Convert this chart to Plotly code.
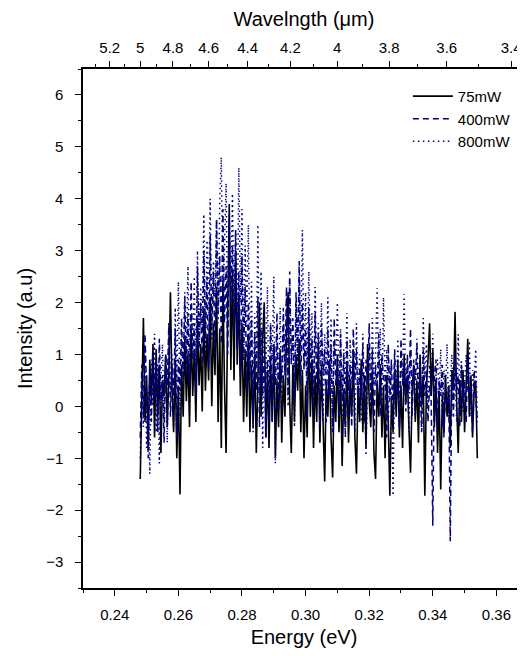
import numpy as np
import plotly.graph_objects as go

# intensity samples, 0.0005 eV apart starting at 0.248 eV
e_start = 0.248
e_step = 0.0005

p75 = [
    -1.4, 0.2, 1.7, -0.3, 0.6, -0.8, 0.9, 0.1, 1.2, -0.6,
    1.1, -0.2, 0.8, -0.9, 0.5, 0.2, 1.0, -0.4, 0.6, 2.2,
    0.3, -0.5, 0.9, -1.0, 0.4, -1.7, 0.8, -0.2, 1.3, 0.1,
    1.0, -0.4, 1.5, 0.2, 1.1, -0.3, 1.7, 0.4, 1.2, -0.1,
    1.9, 0.3, 1.4, 0.5, 2.1, 0.0, 1.6, 0.6, 2.3, -0.3,
    1.5, -0.8, 2.4, 0.4, -0.9, 1.8, 3.9, 0.7, 2.6, 0.5,
    3.0, 0.8, 2.2, 0.2, 1.6, -0.3, 1.1, -0.2, 1.4, -0.5,
    0.8, -0.4, 1.0, -0.9, 0.6, 2.0, -0.2, 1.3, 2.0, -0.6,
    0.7, -0.8, 0.9, -0.3, 1.2, -1.0, 0.5, -0.4, 1.1, -0.7,
    0.6, -0.2, 1.4, 2.2, 0.1, -0.9, 0.8, -0.3, 1.0, 0.3,
    1.3, -0.5, 0.7, -1.0, 0.4, -0.6, 1.5, -0.2, 0.9, -0.8,
    0.6, -0.3, 1.2, -0.7, 0.8, -0.4, -1.45, 0.5, -0.2, 0.9,
    -0.6, -1.37, 0.4, -0.3, 1.0, -0.5, 0.6, -1.15, 0.3, -0.4,
    0.8, -0.7, 0.5, -0.2, 1.1, -0.6, -1.3, 0.4, -0.3, 0.9,
    -0.5, 0.6, -0.8, 1.2, 0.1, -0.4, 0.7, -0.9, -1.4, 0.5,
    -0.2, 0.8, -0.6, 0.4, -1.0, 0.6, -0.3, -1.72, 0.2, -0.5,
    0.7, -0.2, 0.9, -0.6, 0.4, -0.8, 1.0, 0.1, 0.6, -0.4,
    -1.28, 0.3, 0.8, -0.3, 0.5, -0.7, 1.0, 0.0, 0.6, -1.72,
    0.4, 0.9, 1.6, 0.2, 1.1, -0.4, 0.5, -0.9, 0.3, -1.6,
    0.2, -0.5, 0.6, -0.2, 0.4, -0.8, 0.7, 0.3, 1.82, 0.1,
    -0.9, 0.5, -0.3, 0.7, -0.5, 0.4, 1.3, -0.2, 0.6, -0.6,
    0.3, 0.5, -1.0,
]

p400 = [
    -0.6, 0.8, -0.2, 1.4, 0.3, -1.0, 0.7, -0.3, 1.1, 0.2,
    0.9, -0.5, 1.3, 0.1, 0.6, -0.7, 1.0, 0.4, 1.6, -0.2,
    0.8, 0.2, 1.5, -0.6, 0.9, 0.3, 1.7, 0.5, 2.1, 0.6,
    1.8, 0.4, 2.4, 0.9, 1.6, 0.2, 2.7, 1.1, 2.0, 0.8,
    3.0, 1.3, 2.5, 0.7, 3.3, 1.5, 2.6, 1.0, 3.6, 1.8,
    2.9, 1.2, 3.8, 1.6, 2.7, 1.0, 3.5, 2.0, 3.1, 1.4,
    3.4, 1.1, 2.6, 0.6, 2.9, 0.9, 2.3, 0.3, 2.0, 0.5,
    1.7, -0.2, 1.4, 0.3, 2.1, -0.4, 1.5, 0.2, 1.1, -0.6,
    0.9, 0.1, 1.6, -0.3, 1.2, 0.4, 1.8, -0.1, 1.0, 0.5,
    1.9, 0.6, 2.3, 0.2, 2.6, 0.8, 1.7, 0.1, 2.2, 0.9,
    2.8, 0.4, 2.0, 0.7, 1.5, -0.2, 1.9, 0.5, 1.3, 0.0,
    1.8, 0.3, 1.4, -0.4, 1.6, 0.6, 1.1, -0.3, 1.5, 0.2,
    1.2, -0.5, 1.7, 0.4, 0.9, -0.2, 1.4, 0.1, 1.0, -0.6,
    1.3, 0.3, 0.8, -0.4, 1.5, 0.5, 1.1, -0.1, 0.7, 0.2,
    1.2, -0.3, 0.9, 0.4, 1.6, 0.0, 1.1, -0.5, 0.8, 0.3,
    1.4, -0.2, 1.0, 0.5, 0.6, -0.6, 1.2, 0.1, 0.9, -0.3,
    1.1, 0.2, 0.7, -0.4, 1.3, 0.4, 0.8, -0.1, 1.0, 0.3,
    1.5, -0.2, 0.9, 0.5, 1.2, 0.0, 0.6, -0.5, 1.1, 0.2,
    0.7, -0.3, 0.4, 0.1, -2.3, 0.6, 0.9, -0.4, 0.5, 0.2,
    0.8, -0.6, 0.3, 0.0, 0.4, -2.6, 0.7, -0.2, 1.0, 0.3,
    0.6, -0.4, 0.8, 0.1, 0.5, -0.3, 0.9, 0.2, 0.4, -0.5,
    0.7, 0.1, -0.3,
]

p800 = [
    -1.0, 0.6, -0.4, 1.1, -0.8, 0.3, -1.3, 0.9, 0.0, 1.4,
    -0.5, 0.8, -1.1, 0.5, 1.2, -0.3, 0.7, -0.7, 1.6, 0.2,
    1.0, -0.4, 1.9, 0.4, 2.4, -0.2, 1.3, 0.6, 2.2, 0.9,
    2.7, 0.5, 1.8, 1.1, 2.5, 0.3, 3.0, 1.2, 2.3, 1.5,
    3.7, 1.0, 3.2, 1.8, 4.0, 1.3, 2.8, 2.1, 3.6, 1.6,
    3.9, 4.8, 1.9, 3.3, 4.3, 1.4, 3.7, 2.2, 4.1, 1.7,
    3.4, 1.2, 4.6, 2.0, 3.8, 0.9, 3.1, 1.5, 3.5, 0.6,
    2.4, -0.5, 1.8, 0.8, 3.5, 0.2, 2.6, -0.8, 2.0, 0.5,
    2.3, -0.3, 1.6, 0.9, 2.5, -1.1, 1.4, 0.3, 1.9, -0.2,
    1.5, 0.6, 2.1, 0.0, 2.4, 0.9, 1.3, -0.4, 2.0, 0.7,
    2.5, 1.1, 3.4, 0.8, 2.2, 0.3, 2.6, 1.0, 1.8, -0.2,
    2.3, 0.5, 1.6, 0.9, 2.0, -0.3, 1.4, 0.6, 2.1, 0.2,
    1.7, -0.4, 1.2, 0.8, 2.0, 0.1, 1.5, -0.6, 1.1, 0.4,
    1.8, -0.2, 1.3, 0.5, 0.9, -0.5, 1.6, 0.2, 1.0, -0.3,
    1.4, 0.3, -0.95, 0.7, 1.2, 0.0, 1.7, 0.4, 1.0, 2.28,
    0.6, 1.5, -0.2, 2.1, 0.3, 1.1, -0.4, 0.8, 0.2, -1.72,
    0.9, 0.1, 1.3, -0.3, 1.0, 0.5, 2.16, 0.2, 0.8, -0.5,
    1.1, 0.3, 0.7, -0.2, 1.3, 0.4, 0.9, -0.4, 1.7, 0.6,
    1.2, 0.0, 0.8, 0.3, 1.4, -0.3, 0.6, 0.9, 0.2, 1.1,
    -0.4, 0.7, 0.3, 1.2, -0.2, 0.5, 1.0, 0.1, 0.8, -0.3,
    1.39, 0.2, 0.9, -0.1, 0.6, 1.0, 0.3, 1.26, -0.2, 0.7,
    0.4, 1.1, -0.3,
]

# top axis labels (wavelength in um)
wl_major = [5.2, 5.0, 4.8, 4.6, 4.4, 4.2, 4.0, 3.8, 3.6, 3.4]
wl_labels = ["5.2", "5", "4.8", "4.6", "4.4", "4.2", "4", "3.8", "3.6", "3.4"]
wl_minor = [5.3, 5.1, 4.9, 4.7, 4.5, 4.3, 4.1, 3.9, 3.7, 3.5]

HC = 1.2398  # eV*um
x_range = [0.23, 0.369]
y_range = [-3.5, 6.5]
navy = "#000080"
font = "Liberation Sans, Arial, sans-serif"


def energies(n):
    return np.round(e_start + e_step * np.arange(n), 4)


fig = go.Figure()
fig.add_trace(go.Scatter(x=energies(len(p75)), y=p75, mode="lines", name="75mW",
                         line=dict(color="black", width=1.6)))
fig.add_trace(go.Scatter(x=energies(len(p400)), y=p400, mode="lines", name="400mW",
                         line=dict(color=navy, width=1.5, dash="6px,4px")))
fig.add_trace(go.Scatter(x=energies(len(p800)), y=p800, mode="lines", name="800mW",
                         line=dict(color=navy, width=1.5, dash="1.5px,3.5px")))
# dummy trace so the top axis is drawn
fig.add_trace(go.Scatter(x=[None], y=[None], xaxis="x2", yaxis="y2",
                         showlegend=False, hoverinfo="skip"))

axis_common = dict(showline=True, linecolor="black", linewidth=1.5,
                   showgrid=False, zeroline=False, tickcolor="black",
                   tickwidth=1.2, automargin=False,
                   tickfont=dict(size=15, color="black"))

# the page body adds 8px around the figure, so the figure is 517x640
fig.update_layout(
    width=517, height=640,
    margin=dict(l=75, r=0, t=61, b=60),
    paper_bgcolor="white", plot_bgcolor="white",
    font=dict(family=font, color="black"),
    showlegend=True,
    legend=dict(x=0.735, y=0.979, xanchor="left", yanchor="top",
                bgcolor="rgba(0,0,0,0)", font=dict(size=15),
                tracegroupgap=0, itemwidth=40),
    xaxis=dict(range=x_range, tick0=0.24, dtick=0.02, tickformat=".2f",
               ticks="outside", ticklen=6, ticklabelstandoff=6,
               minor=dict(dtick=0.01, tick0=0.23, ticks="outside", ticklen=3,
                          tickcolor="black", tickwidth=1.2),
               title=dict(text="Energy (eV)", font=dict(size=20), standoff=20),
               **axis_common),
    yaxis=dict(range=y_range, tick0=0, dtick=1, ticks="outside", ticklen=6,
               ticklabelstandoff=9,
               minor=dict(dtick=0.5, tick0=0, ticks="outside", ticklen=3,
                          tickcolor="black", tickwidth=1.2),
               title=dict(text="Intensity (a.u)", font=dict(size=20), standoff=8),
               **axis_common),
    xaxis2=dict(overlaying="x", side="top", range=x_range,
                tickmode="array", tickvals=[HC / w for w in wl_major],
                ticktext=wl_labels, ticks="outside", ticklen=6,
                ticklabelstandoff=2,
                minor=dict(tickmode="array", tickvals=[HC / w for w in wl_minor],
                           ticks="outside", ticklen=3, tickcolor="black",
                           tickwidth=1.2),
                title=dict(text="Wavelngth (\u03bcm)", font=dict(size=20), standoff=12),
                **axis_common),
    yaxis2=dict(overlaying="y", side="right", range=y_range, tick0=0, dtick=1,
                ticks="inside", ticklen=6, showticklabels=False,
                minor=dict(dtick=0.5, tick0=0, ticks="inside", ticklen=3,
                           tickcolor="black", tickwidth=1.2),
                **{**axis_common, "showline": False}),
)

fig.write_html("out.html")
